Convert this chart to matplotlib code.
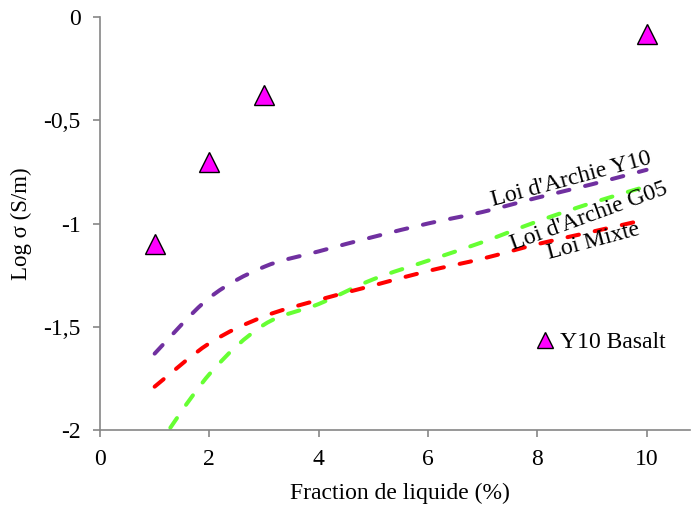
import matplotlib
matplotlib.use("Agg")
import matplotlib.pyplot as plt
from matplotlib.path import Path
from matplotlib.patches import PathPatch
from matplotlib.lines import Line2D

plt.rcParams['font.family'] = ['Liberation Serif', 'DejaVu Serif']

# données
fraction = [1, 2, 3, 4, 5, 6, 7, 8, 9, 10]
archie_y10 = [-1.63, -1.36, -1.21, -1.135, -1.065, -1.00, -0.944, -0.875, -0.81, -0.74]
archie_g05 = [-2.1, -1.73, -1.49, -1.39, -1.27, -1.18, -1.09, -0.99, -0.90, -0.82]
loi_mixte = [-1.79, -1.58, -1.45, -1.37, -1.30, -1.23, -1.17, -1.10, -1.04, -0.98]

basalt_x = [1, 2, 3, 10]
basalt_y = [-1.10, -0.70, -0.38, -0.08]


def smooth_path(xs, ys):
    # courbe lissee type Excel (Bezier cubique, Catmull-Rom)
    pts = list(zip(xs, ys))
    n = len(pts)
    verts = [pts[0]]
    codes = [Path.MOVETO]
    for i in range(n - 1):
        p0 = pts[i - 1] if i > 0 else pts[i]
        p1 = pts[i]
        p2 = pts[i + 1]
        p3 = pts[i + 2] if i + 2 < n else pts[i + 1]
        c1 = (p1[0] + (p2[0] - p0[0]) / 6, p1[1] + (p2[1] - p0[1]) / 6)
        c2 = (p2[0] - (p3[0] - p1[0]) / 6, p2[1] - (p3[1] - p1[1]) / 6)
        verts += [c1, c2, p2]
        codes += [Path.CURVE4] * 3
    return Path(verts, codes)


fig = plt.figure(figsize=(6.91, 5.08), dpi=100)
ax = fig.add_axes([0.1447, 0.1535, 0.8543, 0.813])

series = [(archie_y10, '#7030A0'), (archie_g05, '#66FF33'), (loi_mixte, '#FF0000')]
for ys, col in series:
    patch = PathPatch(smooth_path(fraction, ys), facecolor='none', edgecolor=col,
                      lw=2.9, linestyle=(0, (2.9, 4.0)), capstyle='round')
    ax.add_patch(patch)

ax.plot(basalt_x, basalt_y, linestyle='none', marker='^', ms=15,
        markerfacecolor='#FF00FF', markeredgecolor='black', markeredgewidth=1,
        clip_on=False, zorder=5)

ax.text(8.63, -0.785, "Loi d'Archie Y10", rotation=15, ha='center', va='center',
        fontsize=17, rotation_mode='anchor')
ax.text(8.94, -0.965, "Loi d'Archie G05", rotation=20, ha='center', va='center',
        fontsize=17, rotation_mode='anchor')
ax.text(9.03, -1.085, "Loi Mixte", rotation=15, ha='center', va='center',
        fontsize=17, rotation_mode='anchor')

ax.set_xlim(0, 10.8)
ax.set_ylim(-2, 0)
ax.set_xticks([0, 2, 4, 6, 8, 10])
ax.set_yticks([0, -0.5, -1, -1.5, -2])
ax.set_yticklabels(['0', '-0,5', '-1', '-1,5', '-2'])
ax.tick_params(labelsize=17, color='#868686', length=5, width=1.2, pad=9)
for s in ['top', 'right']:
    ax.spines[s].set_visible(False)
for s in ['left', 'bottom']:
    ax.spines[s].set_color('#868686')
    ax.spines[s].set_linewidth(1.2)

ax.set_xlabel('Fraction de liquide (%)', fontsize=17)
ax.xaxis.set_label_coords(0.508, -0.128)
ax.set_ylabel('Log σ (S/m)', fontsize=16.5, labelpad=8)

handle = Line2D([], [], linestyle='none', marker='^', ms=11,
                markerfacecolor='#FF00FF', markeredgecolor='black', markeredgewidth=1)
ax.legend([handle], ['Y10 Basalt'], loc='center left', bbox_to_anchor=(0.72, 0.212),
          frameon=False, fontsize=17, handlelength=0.7, handletextpad=0.3, borderpad=0)

fig.savefig('out.png', dpi=100)
